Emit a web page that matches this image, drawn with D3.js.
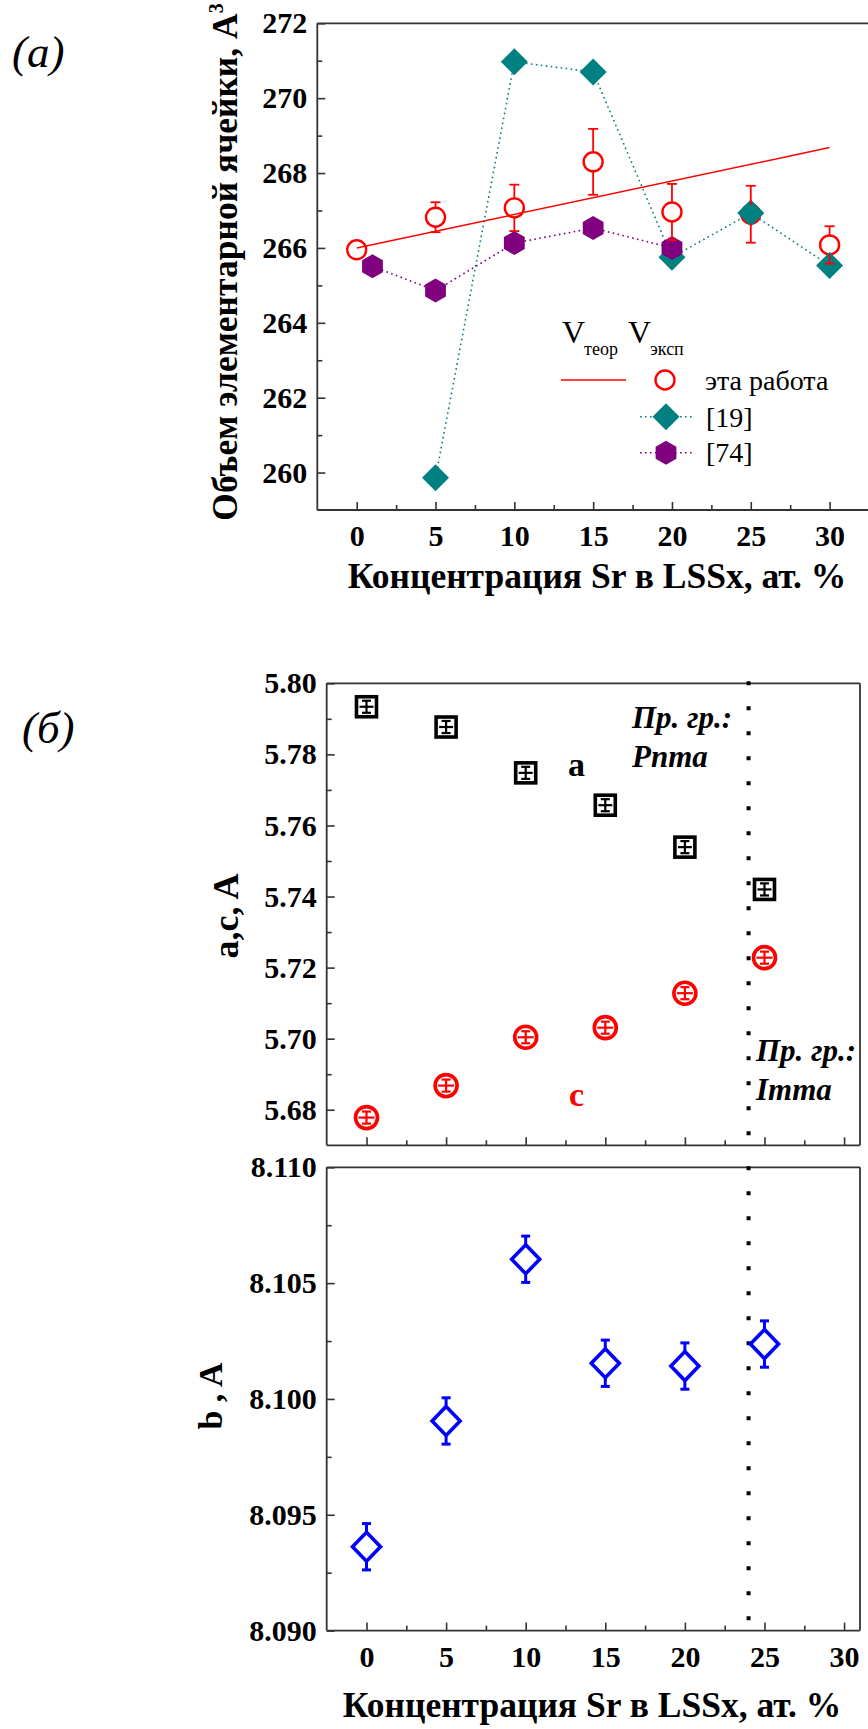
<!DOCTYPE html>
<html>
<head>
<meta charset="utf-8">
<script src="https://cdn.jsdelivr.net/npm/d3@7"></script>
<style>
  body { margin: 0; background: #fff; }
</style>
</head>
<body>
<svg id="chart" width="868" height="1729"></svg>
<script>
// ---------- Panel (а): unit cell volume, A^3 ----------
const volTicks = [260, 262, 264, 266, 268, 270, 272];
const volMinorTicks = [261, 263, 265, 267, 269, 271];
const concTicks = [0, 5, 10, 15, 20, 25, 30];
const concMinorTicks = [2.5, 7.5, 12.5, 17.5, 22.5, 27.5];

// this work, experiment
const workX = [0, 5, 10, 15, 20, 25, 30];
const workV = [265.95, 266.82, 267.07, 268.30, 266.96, 266.90, 266.08];
const workErr = [0.0, 0.40, 0.62, 0.88, 0.75, 0.76, 0.50];
// this work, theory (linear)
const theoryX = [0, 30];
const theoryV = [266.00, 268.68];
// ref. [19]
const ref19X = [5, 10, 15, 20, 25, 30];
const ref19V = [259.86, 270.97, 270.70, 265.75, 266.93, 265.53];
// ref. [74]
const ref74X = [1, 5, 10, 15, 20];
const ref74V = [265.51, 264.86, 266.13, 266.53, 266.00];

// ---------- Panel (б): lattice parameters ----------
const latX = [0, 5, 10, 15, 20, 25];
const latA = [5.7934, 5.7877, 5.7748, 5.7657, 5.7539, 5.7420];
const latC = [5.6778, 5.6868, 5.7004, 5.7031, 5.7128, 5.7228];
const latACErr = [0.0017, 0.0017, 0.0017, 0.0017, 0.0017, 0.0017];
const latB = [8.09362, 8.09905, 8.10603, 8.10154, 8.10142, 8.10237];
const latBErr = [0.001, 0.001, 0.001, 0.001, 0.001, 0.001];
const acTicks = [5.68, 5.70, 5.72, 5.74, 5.76, 5.78, 5.80];
const acMinorTicks = [5.69, 5.71, 5.73, 5.75, 5.77, 5.79];
const bTicks = [8.090, 8.095, 8.100, 8.105, 8.110];
const bMinorTicks = [8.0925, 8.0975, 8.1025, 8.1075];
const phaseBoundary = 24;

const RED = "#ff0000", TEAL = "#008080", PURPLE = "#800080", BLUE = "#0000ff";
const FRAME = "#333";
const FONT = '"Liberation Serif", "Times New Roman", serif';

const svg = d3.select("#chart");

// ---------- helpers ----------
function diamondPath(w, h) {
  return `M0,${-h}L${w},0L0,${h}L${-w},0Z`;
}
function hexPath(r) {
  const pts = d3.range(6).map(k => {
    const a = Math.PI / 2 + k * Math.PI / 3;
    return [r * Math.cos(a), r * Math.sin(a)];
  });
  return "M" + pts.map(p => p.join(",")).join("L") + "Z";
}

function styleAxis(g, fs) {
  g.select(".domain").remove();
  g.attr("font-family", null);
  g.selectAll(".tick line").attr("stroke", FRAME).attr("stroke-width", 1.6);
  g.selectAll(".tick text")
    .attr("fill", "#000")
    .style("font-size", fs + "px")
    .style("font-weight", "bold");
}

function frame(x0, x1, y0, y1, sides) {
  const g = svg.append("g").attr("stroke", FRAME).attr("stroke-width", 1.8).attr("fill", "none");
  if (sides.includes("l")) g.append("line").attr("x1", x0).attr("x2", x0).attr("y1", y0).attr("y2", y1);
  if (sides.includes("r")) g.append("line").attr("x1", x1).attr("x2", x1).attr("y1", y0).attr("y2", y1);
  if (sides.includes("t")) g.append("line").attr("x1", x0).attr("x2", x1).attr("y1", y0).attr("y2", y0);
  if (sides.includes("b")) g.append("line").attr("x1", x0).attr("x2", x1).attr("y1", y1).attr("y2", y1);
}

// ================= Panel (а) =================
const PA = { left: 317.3, right: 869, top: 23.3, bottom: 510 };
const xA = d3.scaleLinear().domain([-2.5, 32.5]).range([PA.left, PA.right]);
const yA = d3.scaleLinear().domain([259, 272]).range([PA.bottom, PA.top]);

svg.append("g").attr("transform", `translate(0,${PA.bottom})`)
  .call(d3.axisBottom(xA).tickValues(concTicks).tickSize(-8).tickPadding(15).tickFormat(d3.format("d")))
  .call(g => styleAxis(g, 30));
svg.append("g").attr("transform", `translate(0,${PA.bottom})`)
  .call(d3.axisBottom(xA).tickValues(concMinorTicks).tickSize(-5).tickFormat(""))
  .call(g => styleAxis(g, 30));
svg.append("g").attr("transform", `translate(${PA.left},0)`)
  .call(d3.axisLeft(yA).tickValues(volTicks).tickSize(-8).tickPadding(10).tickFormat(d3.format("d")))
  .call(g => styleAxis(g, 30));
svg.append("g").attr("transform", `translate(${PA.left},0)`)
  .call(d3.axisLeft(yA).tickValues(volMinorTicks).tickSize(-5).tickFormat(""))
  .call(g => styleAxis(g, 30));
frame(PA.left, PA.right, PA.top, PA.bottom, "ltb");

const lineA = d3.line().x(d => xA(d[0])).y(d => yA(d[1]));

// theory line
svg.append("path").datum(d3.zip(theoryX, theoryV))
  .attr("d", lineA).attr("fill", "none").attr("stroke", RED).attr("stroke-width", 1.5);

// this work circles (drawn beneath reference markers)
const rCirc = 9.5;
svg.append("g").selectAll("circle").data(d3.zip(workX, workV)).join("circle")
  .attr("cx", d => xA(d[0])).attr("cy", d => yA(d[1])).attr("r", rCirc)
  .attr("fill", "none").attr("stroke", RED).attr("stroke-width", 2.4);

// ref [19]
svg.append("path").datum(d3.zip(ref19X, ref19V))
  .attr("d", lineA).attr("fill", "none").attr("stroke", TEAL)
  .attr("stroke-width", 1.6).attr("stroke-dasharray", "1.6 3.4");
svg.append("g").selectAll("path").data(d3.zip(ref19X, ref19V)).join("path")
  .attr("transform", d => `translate(${xA(d[0])},${yA(d[1])})`)
  .attr("d", diamondPath(13.5, 13.5)).attr("fill", TEAL);

// ref [74]
svg.append("path").datum(d3.zip(ref74X, ref74V))
  .attr("d", lineA).attr("fill", "none").attr("stroke", PURPLE)
  .attr("stroke-width", 1.6).attr("stroke-dasharray", "1.6 3.4");
svg.append("g").selectAll("path").data(d3.zip(ref74X, ref74V)).join("path")
  .attr("transform", d => `translate(${xA(d[0])},${yA(d[1])})`)
  .attr("d", hexPath(12)).attr("fill", PURPLE);

// this work error bars (outside the circle)
const errA = svg.append("g").attr("stroke", RED).attr("stroke-width", 1.8);
workX.forEach((x, i) => {
  const e = workErr[i];
  if (e <= 0) return;
  const cx = xA(x), cy = yA(workV[i]);
  const yt = yA(workV[i] + e), yb = yA(workV[i] - e);
  errA.append("line").attr("x1", cx).attr("x2", cx).attr("y1", yt).attr("y2", cy - rCirc);
  errA.append("line").attr("x1", cx).attr("x2", cx).attr("y1", cy + rCirc).attr("y2", yb);
  errA.append("line").attr("x1", cx - 5).attr("x2", cx + 5).attr("y1", yt).attr("y2", yt);
  errA.append("line").attr("x1", cx - 5).attr("x2", cx + 5).attr("y1", yb).attr("y2", yb);
});

// legend
const leg = svg.append("g");
const vT = leg.append("text").attr("x", 562).attr("y", 343).style("font-size", "32px");
vT.append("tspan").text("V");
vT.append("tspan").attr("dy", 12).attr("dx", -1).style("font-size", "18px").text("теор");
const vE = leg.append("text").attr("x", 628).attr("y", 343).style("font-size", "32px");
vE.append("tspan").text("V");
vE.append("tspan").attr("dy", 12).attr("dx", -1).style("font-size", "18px").text("эксп");

leg.append("line").attr("x1", 561).attr("x2", 626).attr("y1", 380).attr("y2", 380)
  .attr("stroke", RED).attr("stroke-width", 1.5);
leg.append("circle").attr("cx", 665).attr("cy", 380).attr("r", rCirc)
  .attr("fill", "none").attr("stroke", RED).attr("stroke-width", 2.4);
leg.append("text").attr("x", 705).attr("y", 390).style("font-size", "28px").text("эта работа");

leg.append("line").attr("x1", 640).attr("x2", 694).attr("y1", 416.7).attr("y2", 416.7)
  .attr("stroke", TEAL).attr("stroke-width", 1.6).attr("stroke-dasharray", "1.6 3.4");
leg.append("path").attr("transform", "translate(666,416.7)").attr("d", diamondPath(13.5, 13.5)).attr("fill", TEAL);
leg.append("text").attr("x", 706).attr("y", 426.7).style("font-size", "28px").text("[19]");

leg.append("line").attr("x1", 640).attr("x2", 694).attr("y1", 452.7).attr("y2", 452.7)
  .attr("stroke", PURPLE).attr("stroke-width", 1.6).attr("stroke-dasharray", "1.6 3.4");
leg.append("path").attr("transform", "translate(666,452.7)").attr("d", hexPath(12)).attr("fill", PURPLE);
leg.append("text").attr("x", 706).attr("y", 461.7).style("font-size", "28px").text("[74]");

// titles
const yTitleA = svg.append("text")
  .attr("transform", "translate(237,262) rotate(-90)")
  .attr("text-anchor", "middle").style("font-size", "35.5px").style("font-weight", "bold");
yTitleA.append("tspan").text("Объем элементарной ячейки, A");
yTitleA.append("tspan").attr("dy", -14).style("font-size", "20px").text("3");

svg.append("text").attr("x", 597).attr("y", 588).attr("text-anchor", "middle")
  .style("font-size", "35.5px").style("font-weight", "bold").text("Концентрация Sr в LSSx, ат. %");

svg.append("text").attr("x", 12).attr("y", 67).style("font-size", "45px").style("font-style", "italic").text("(а)");

// ================= Panel (б) =================
const PB = { left: 326.7, right: 860, top1: 683.3, bottom1: 1145.3, top2: 1167.3, bottom2: 1630.6 };
const xB = d3.scaleLinear().domain([-2.5, 31]).range([PB.left, PB.right]);
const yAC = d3.scaleLinear().domain([5.67, 5.80]).range([PB.bottom1, PB.top1]);
const yB = d3.scaleLinear().domain([8.090, 8.110]).range([PB.bottom2, PB.top2]);

// upper part axes
svg.append("g").attr("transform", `translate(0,${PB.bottom1})`)
  .call(d3.axisBottom(xB).tickValues(concTicks).tickSize(-8).tickFormat(""))
  .call(g => styleAxis(g, 30));
svg.append("g").attr("transform", `translate(0,${PB.bottom1})`)
  .call(d3.axisBottom(xB).tickValues(concMinorTicks).tickSize(-5).tickFormat(""))
  .call(g => styleAxis(g, 30));
svg.append("g").attr("transform", `translate(${PB.left},0)`)
  .call(d3.axisLeft(yAC).tickValues(acTicks).tickSize(-8).tickPadding(10).tickFormat(d3.format(".2f")))
  .call(g => styleAxis(g, 30));
svg.append("g").attr("transform", `translate(${PB.left},0)`)
  .call(d3.axisLeft(yAC).tickValues(acMinorTicks).tickSize(-5).tickFormat(""))
  .call(g => styleAxis(g, 30));
frame(PB.left, PB.right, PB.top1, PB.bottom1, "ltrb");

// lower part axes
svg.append("g").attr("transform", `translate(0,${PB.bottom2})`)
  .call(d3.axisBottom(xB).tickValues(concTicks).tickSize(-8).tickPadding(15).tickFormat(d3.format("d")))
  .call(g => styleAxis(g, 30));
svg.append("g").attr("transform", `translate(0,${PB.bottom2})`)
  .call(d3.axisBottom(xB).tickValues(concMinorTicks).tickSize(-5).tickFormat(""))
  .call(g => styleAxis(g, 30));
svg.append("g").attr("transform", `translate(${PB.left},0)`)
  .call(d3.axisLeft(yB).tickValues(bTicks).tickSize(-8).tickPadding(10).tickFormat(d3.format(".3f")))
  .call(g => styleAxis(g, 30));
svg.append("g").attr("transform", `translate(${PB.left},0)`)
  .call(d3.axisLeft(yB).tickValues(bMinorTicks).tickSize(-5).tickFormat(""))
  .call(g => styleAxis(g, 30));
frame(PB.left, PB.right, PB.top2, PB.bottom2, "ltrb");

// phase boundary
[[PB.top1 - 2, PB.bottom1], [PB.top2 - 1, PB.bottom2]].forEach(([y0, y1]) => {
  svg.append("line").attr("x1", xB(phaseBoundary)).attr("x2", xB(phaseBoundary))
    .attr("y1", y0).attr("y2", y1).attr("stroke", "#000").attr("stroke-width", 4)
    .attr("stroke-dasharray", "4 21");
});

// marker with a small inner error bar
function innerErr(g, color, cx, cy, dy, half) {
  const s = g.append("g").attr("stroke", color).attr("stroke-width", 2.2);
  s.append("line").attr("x1", cx - half).attr("x2", cx + half).attr("y1", cy).attr("y2", cy);
  s.append("line").attr("x1", cx).attr("x2", cx).attr("y1", cy - dy).attr("y2", cy + dy);
  s.append("line").attr("x1", cx - 4.5).attr("x2", cx + 4.5).attr("y1", cy - dy).attr("y2", cy - dy);
  s.append("line").attr("x1", cx - 4.5).attr("x2", cx + 4.5).attr("y1", cy + dy).attr("y2", cy + dy);
}

const gA = svg.append("g");
latX.forEach((x, i) => {
  const cx = xB(x), cy = yAC(latA[i]);
  gA.append("rect").attr("x", cx - 10).attr("y", cy - 10).attr("width", 20).attr("height", 20)
    .attr("fill", "#fff").attr("stroke", "#000").attr("stroke-width", 3.6);
  innerErr(gA, "#000", cx, cy, yAC(latA[i]) - yAC(latA[i] + latACErr[i]), 7);
});
const gC = svg.append("g");
latX.forEach((x, i) => {
  const cx = xB(x), cy = yAC(latC[i]);
  gC.append("circle").attr("cx", cx).attr("cy", cy).attr("r", 11)
    .attr("fill", "#fff").attr("stroke", RED).attr("stroke-width", 3.6);
  innerErr(gC, RED, cx, cy, yAC(latC[i]) - yAC(latC[i] + latACErr[i]), 8);
});

const gB = svg.append("g");
latX.forEach((x, i) => {
  const cx = xB(x), cy = yB(latB[i]);
  const yt = yB(latB[i] + latBErr[i]), yb = yB(latB[i] - latBErr[i]);
  const h = 14.5;
  const s = gB.append("g").attr("stroke", BLUE).attr("stroke-width", 3);
  s.append("line").attr("x1", cx).attr("x2", cx).attr("y1", yt).attr("y2", cy - h);
  s.append("line").attr("x1", cx).attr("x2", cx).attr("y1", cy + h).attr("y2", yb);
  s.append("line").attr("x1", cx - 4.5).attr("x2", cx + 4.5).attr("y1", yt).attr("y2", yt);
  s.append("line").attr("x1", cx - 4.5).attr("x2", cx + 4.5).attr("y1", yb).attr("y2", yb);
  gB.append("path").attr("transform", `translate(${cx},${cy})`).attr("d", diamondPath(14, h))
    .attr("fill", "none").attr("stroke", BLUE).attr("stroke-width", 3.6);
});

// annotations
svg.append("text").attr("x", 568).attr("y", 776).style("font-size", "34px").style("font-weight", "bold").text("a");
svg.append("text").attr("x", 569).attr("y", 1106).attr("fill", RED).style("font-size", "34px").style("font-weight", "bold").text("c");

function spaceGroup(x, y1, y2, name) {
  const t = svg.append("g").style("font-size", "31px").style("font-weight", "bold").style("font-style", "italic");
  t.append("text").attr("x", x).attr("y", y1).text("Пр. гр.:");
  t.append("text").attr("x", x).attr("y", y2).text(name);
}
spaceGroup(632, 728, 766.7, "Pnma");
spaceGroup(756, 1061, 1100, "Imma");

svg.append("text").attr("transform", "translate(238,916) rotate(-90)").attr("text-anchor", "middle")
  .style("font-size", "36px").style("font-weight", "bold").text("a,c, A");
svg.append("text").attr("transform", "translate(222,1396) rotate(-90)").attr("text-anchor", "middle")
  .style("font-size", "34px").style("font-weight", "bold").text("b , A");

svg.append("text").attr("x", 592).attr("y", 1717).attr("text-anchor", "middle")
  .style("font-size", "35.5px").style("font-weight", "bold").text("Концентрация Sr в LSSx, ат. %");

svg.append("text").attr("x", 22).attr("y", 743).style("font-size", "45px").style("font-style", "italic").text("(б)");

// one typeface for every label
svg.selectAll("text").style("font-family", FONT);
</script>
</body>
</html>
